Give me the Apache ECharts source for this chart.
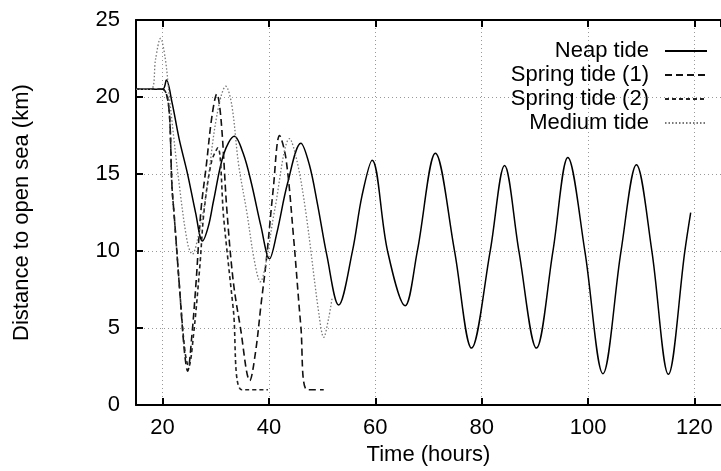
<!DOCTYPE html>
<html>
<head>
<meta charset="utf-8">
<script src="https://cdn.jsdelivr.net/npm/echarts@6/dist/echarts.min.js"></script>
<style>html,body{margin:0;padding:0;background:#fff}#c{width:721px;height:471px}</style>
</head>
<body>
<div id="c"></div>
<script>
// Data (hours, km)
var neapTide = [[15,20.5],[20,20.5],[20.7,21.1],[21.8,19.6],[23.1,17.3],[24.7,15.0],[26.2,12.5],[27.5,10.65],[28.6,11.6],[29.6,13.3],[31.5,16.3],[33.5,17.45],[35.2,16.3],[36.7,14.4],[38.5,11.6],[40.1,9.5],[41.5,11.2],[43.5,14.4],[46,17.0],[47.6,15.6],[49.1,13.1],[50.9,9.7],[53.1,6.5],[55.7,10],[57.5,13.6],[59.4,15.9],[62.3,10],[65.6,6.45],[67.9,10],[71.3,16.35],[74.9,10],[78.1,3.7],[81.6,10],[84.3,15.55],[87.0,10],[90.3,3.7],[93.4,10],[96.2,16.07],[99.4,10],[102.8,2.04],[106.2,10],[109.1,15.6],[112.0,10],[115.1,2.0],[118.2,10],[119.3,12.5]];
var springTide1 = [[15,20.5],[20,20.5],[21.9,13.5],[23.1,8.0],[24.1,3.5],[24.7,2.2],[25.5,4.5],[26.3,8.0],[27.2,12.6],[28.2,15.5],[29.3,18.8],[30.2,20.2],[31.0,18.5],[32.1,12.6],[33.3,8.0],[34.6,5.1],[36.4,1.6],[37.5,3.5],[38.5,6.5],[39.5,9.4],[40.8,14.0],[42.0,17.5],[43.2,16.0],[44.6,11.0],[46.0,5.1],[47.2,1.0],[50.3,1.0]];
var springTide2 = [[15,20.5],[20,20.5],[21.9,13.5],[23.1,8.0],[24.2,3.5],[24.9,2.5],[25.8,4.5],[27.0,9.0],[27.8,12.6],[29.2,15.8],[30.4,16.7],[31.5,12.1],[33.3,6.2],[34.9,1.0],[39.8,1.0]];
var mediumTide = [[15,20.5],[17.8,20.5],[18.7,22.5],[19.6,23.8],[20.5,22.5],[21.3,19.9],[23.1,14.4],[24.7,10.5],[25.6,9.8],[26.6,10.8],[28.1,13.5],[30.2,18.8],[31.9,20.7],[33.0,19.5],[34.3,15.6],[35.8,12.6],[37.3,9.3],[38.4,8.0],[39.3,9.0],[41.1,12.7],[43.9,17.3],[45.3,15.8],[46.9,12.6],[49.4,5.9],[50.3,4.4],[51.2,5.6],[51.9,7.0]];
var seriesNames = ['Neap tide','Spring tide (1)','Spring tide (2)','Medium tide'];

var FONT = 'Liberation Sans, Arial, Helvetica, sans-serif';
var chart = echarts.init(document.getElementById('c'), null, {renderer:'canvas'});
function mk(name, data, color, width, type){
  return {name:name, type:'line', data:data, showSymbol:false, symbol:'none', smooth:0.35,
    lineStyle:{color:color, width:width, type:type}, itemStyle:{color:color}};
}
chart.setOption({
  animation:false,
  backgroundColor:'#fff',
  textStyle:{fontFamily:FONT},
  grid:{left:136, top:20, bottom:59, right:-9},
  legend:{orient:'vertical', align:'right', right:13, top:40, padding:0, itemWidth:42, itemHeight:14, itemGap:2,
    itemStyle:{opacity:0},
    textStyle:{fontSize:22, fontFamily:FONT, color:'#000', lineHeight:22, padding:[0,11,0,0]},
    data:seriesNames},
  xAxis:[{type:'value', position:'bottom', min:15, max:125,
    name:'Time (hours)', nameLocation:'middle', nameGap:33, nameTextStyle:{fontSize:22, color:'#000', fontFamily:FONT},
    axisLine:{show:true, onZero:false, lineStyle:{color:'#000', width:2}},
    axisTick:{show:true, inside:true, length:7, lineStyle:{color:'#000', width:2}},
    axisLabel:{fontSize:22, color:'#000', margin:12, showMinLabel:false, showMaxLabel:false, fontFamily:FONT},
    splitLine:{show:true, lineStyle:{color:'#999', type:[1,3], width:1}}},
   {type:'value', position:'top', min:15, max:125,
    axisLine:{show:true, onZero:false, lineStyle:{color:'#000', width:2}},
    axisTick:{show:true, inside:true, length:7, lineStyle:{color:'#000', width:2}},
    axisLabel:{show:false}, splitLine:{show:false}}],
  yAxis:{type:'value', min:0, max:25, interval:5,
    name:'Distance to open sea (km)', nameLocation:'middle', nameGap:103, nameTextStyle:{fontSize:22, color:'#000', fontFamily:FONT},
    axisLine:{show:true, onZero:false, lineStyle:{color:'#000', width:2}},
    axisTick:{show:true, inside:true, length:7, lineStyle:{color:'#000', width:2}},
    axisLabel:{fontSize:22, color:'#000', margin:16, fontFamily:FONT},
    splitLine:{show:true, lineStyle:{color:'#999', type:[1,3], width:1}}},
  series:[
    mk(seriesNames[0], neapTide, '#000', 1.5, 'solid'),
    mk(seriesNames[1], springTide1, '#111', 1.6, [7,4]),
    mk(seriesNames[2], springTide2, '#222', 1.6, [4,3]),
    mk(seriesNames[3], mediumTide, '#777', 1.3, [1.5,2])
  ]
});
</script>
</body>
</html>
